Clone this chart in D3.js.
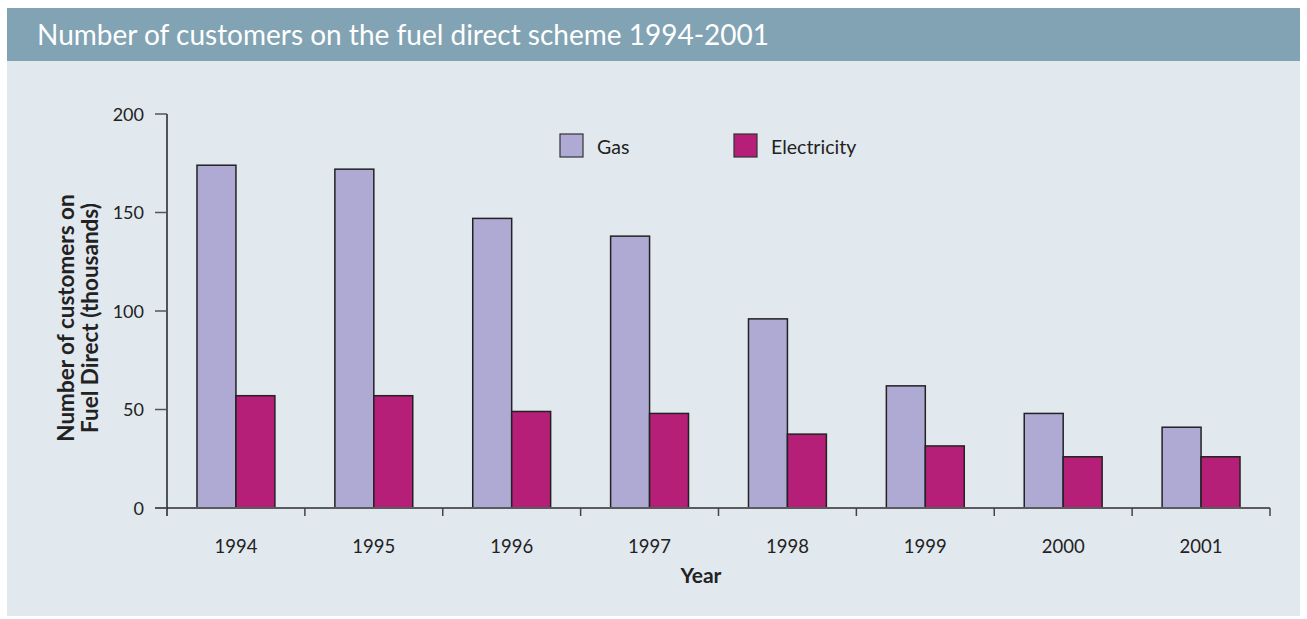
<!DOCTYPE html>
<html>
<head>
<meta charset="utf-8">
<script src="https://cdn.jsdelivr.net/npm/d3@7"></script>
<style>
  html, body { margin: 0; padding: 0; background: #ffffff; }
  svg { display: block; }
  text { font-family: "Lato", "Open Sans", sans-serif; }
</style>
</head>
<body>
<svg id="chart" width="1307" height="619"></svg>
<script>
const years = ["1994", "1995", "1996", "1997", "1998", "1999", "2000", "2001"];
const gasValues = [174, 172, 147, 138, 96, 62, 48, 41];
const electricityValues = [57, 57, 49, 48, 37.5, 31.5, 26, 26];
const seriesNames = ["Gas", "Electricity"];
const seriesColors = ["#afaad4", "#b51f78"];
const yTicks = [0, 50, 100, 150, 200];
const titleText = "Number of customers on the fuel direct scheme 1994-2001";
const xTitle = "Year";
const yTitleLines = ["Number of customers on", "Fuel Direct (thousands)"];

const svg = d3.select("#chart");

// panel
svg.append("rect").attr("x", 7).attr("y", 8).attr("width", 1293).attr("height", 608).attr("fill", "#e1e8ee");
svg.append("rect").attr("x", 7).attr("y", 8).attr("width", 1293).attr("height", 53).attr("fill", "#81a3b3");
svg.append("text").attr("x", 37).attr("y", 45).attr("fill", "#ffffff")
  .attr("font-size", 28).attr("font-weight", 400).text(titleText);

const plotLeft = 167, plotRight = 1270, plotTop = 114, plotBottom = 508;
const pad = 0.435;
const x = d3.scaleBand().domain(years).range([plotLeft, plotRight]).paddingInner(pad).paddingOuter(pad / 2);
const xs = d3.scaleBand().domain(seriesNames).range([0, x.bandwidth()]);
const y = d3.scaleLinear().domain([0, 200]).range([plotBottom, plotTop]);

const data = years.map((yr, i) => ({ year: yr, values: [gasValues[i], electricityValues[i]] }));

// bars
const groups = svg.append("g").selectAll("g").data(data).join("g")
  .attr("transform", d => `translate(${x(d.year)},0)`);
groups.selectAll("rect").data(d => d.values.map((v, i) => ({ v, i })))
  .join("rect")
  .attr("x", d => xs(seriesNames[d.i]))
  .attr("y", d => y(d.v))
  .attr("width", xs.bandwidth())
  .attr("height", d => plotBottom - y(d.v))
  .attr("fill", d => seriesColors[d.i])
  .attr("stroke", "#222")
  .attr("stroke-width", 1.5);

// x axis line with ticks at category boundaries
const step = x.step();
const boundaries = years.map(yr => x(yr) - step * pad / 2 + step);
svg.append("line").attr("x1", 155).attr("x2", plotRight).attr("y1", plotBottom).attr("y2", plotBottom)
  .attr("stroke", "#5a5a5f").attr("stroke-width", 2);
svg.append("g").selectAll("line").data(boundaries).join("line")
  .attr("x1", d => d).attr("x2", d => d).attr("y1", plotBottom).attr("y2", plotBottom + 8)
  .attr("stroke", "#444").attr("stroke-width", 1.5);
svg.append("g").selectAll("text").data(years).join("text")
  .attr("x", d => x(d) + x.bandwidth() / 2)
  .attr("y", 553)
  .attr("text-anchor", "middle")
  .attr("font-size", 18.5)
  .attr("fill", "#222")
  .text(d => d);

// y axis
svg.append("line").attr("x1", plotLeft).attr("x2", plotLeft).attr("y1", plotTop).attr("y2", plotBottom + 8)
  .attr("stroke", "#222").attr("stroke-width", 1.5);
svg.append("g").selectAll("line").data(yTicks).join("line")
  .attr("x1", 155).attr("x2", plotLeft).attr("y1", d => y(d)).attr("y2", d => y(d))
  .attr("stroke", "#555").attr("stroke-width", 1.5);
svg.append("g").selectAll("text").data(yTicks).join("text")
  .attr("x", 144).attr("y", d => y(d) + 6.5)
  .attr("text-anchor", "end").attr("font-size", 18).attr("fill", "#222")
  .text(d => d);

// axis titles
svg.append("text").attr("x", 701).attr("y", 583).attr("text-anchor", "middle")
  .attr("font-size", 21).attr("font-weight", 700).attr("fill", "#222").text(xTitle);
const yt = svg.append("text").attr("transform", "translate(74,318) rotate(-90)")
  .attr("text-anchor", "middle").attr("font-size", 22.5).attr("font-weight", 700).attr("fill", "#222");
yTitleLines.forEach((l, i) => yt.append("tspan").attr("x", 0).attr("dy", i === 0 ? 0 : 24).text(l));

// legend
const legendX = [560, 734];
const lg = svg.append("g").selectAll("g").data(seriesNames).join("g")
  .attr("transform", (d, i) => `translate(${legendX[i]},134)`);
lg.append("rect").attr("width", 23).attr("height", 23)
  .attr("fill", (d, i) => seriesColors[i]).attr("stroke", "#333").attr("stroke-width", 1.2);
lg.append("text").attr("x", 37).attr("y", 20).attr("font-size", 19.5).attr("fill", "#222").text(d => d);
</script>
</body>
</html>
